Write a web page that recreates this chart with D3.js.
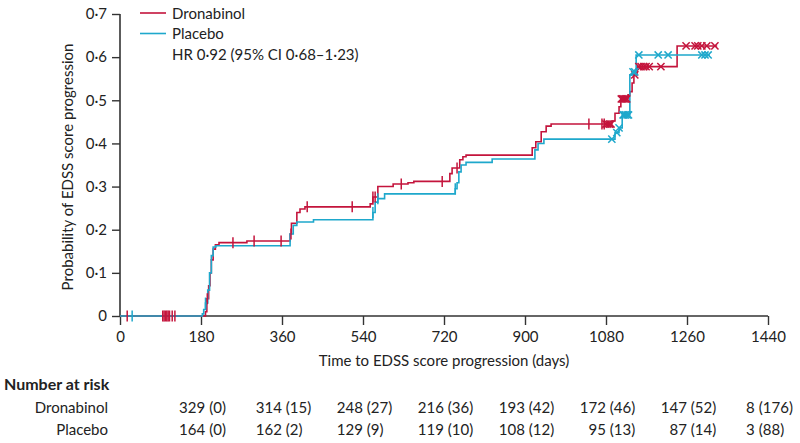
<!DOCTYPE html>
<html>
<head>
<meta charset="utf-8">
<script src="https://cdn.jsdelivr.net/npm/d3@7"></script>
<style>
  html, body { margin: 0; padding: 0; background: #fff; }
  svg { display: block; font-family: Lato, "Open Sans", sans-serif; }
</style>
</head>
<body>
<svg id="chart" width="800" height="443"></svg>
<script>
// ---------------- DATA ----------------
const seriesNames = ["Dronabinol", "Placebo"];
const hrLabel = "HR 0·92 (95% CI 0·68–1·23)";
const xTickValues = [0, 180, 360, 540, 720, 900, 1080, 1260, 1440];
const yTickValues = [0, 0.1, 0.2, 0.3, 0.4, 0.5, 0.6, 0.7];

// Kaplan–Meier steps: [time (days), cumulative probability]
const dronabinolSteps = [
  [0, 0], [190, 0.01], [193, 0.04], [197, 0.07], [200, 0.10], [203, 0.13], [207, 0.155],
  [212, 0.165], [220, 0.17], [282, 0.174], [378, 0.19], [381, 0.215], [393, 0.24],
  [400, 0.248], [411, 0.253], [556, 0.26], [562, 0.276], [573, 0.30], [607, 0.306],
  [640, 0.309], [653, 0.312], [733, 0.33], [738, 0.343], [755, 0.362], [762, 0.369],
  [769, 0.373], [916, 0.39], [924, 0.404], [936, 0.427], [947, 0.44], [958, 0.445],
  [1093, 0.452], [1100, 0.47], [1109, 0.485], [1113, 0.503], [1129, 0.513], [1133, 0.52],
  [1138, 0.54], [1142, 0.559], [1149, 0.578], [1238, 0.626], [1327, 0.626]
];
const placeboSteps = [
  [0, 0], [183, 0.005], [186, 0.015], [190, 0.03], [195, 0.06], [199, 0.10], [203, 0.14],
  [207, 0.16], [213, 0.163], [378, 0.19], [385, 0.21], [393, 0.218], [430, 0.223],
  [562, 0.24], [567, 0.264], [573, 0.272], [588, 0.283], [745, 0.295], [749, 0.309],
  [753, 0.334], [758, 0.35], [769, 0.356], [827, 0.364], [922, 0.385], [929, 0.40],
  [942, 0.41], [1100, 0.425], [1109, 0.436], [1116, 0.466], [1133, 0.559], [1140, 0.566],
  [1147, 0.605], [1311, 0.605]
];

// Censoring times (days)
const dronabinolCensored = [
  16, 95, 98, 101, 104, 107, 110, 116, 122, 194, 251, 298, 358, 380, 416, 516, 562, 567,
  625, 716, 749, 1042, 1071, 1076, 1080, 1084, 1088, 1091, 1114, 1117, 1120, 1123, 1126,
  1144, 1153, 1158, 1164, 1169, 1176, 1202, 1258, 1278, 1284, 1293, 1304, 1322
];
const placeboCensored = [
  27, 190, 562, 573, 745, 1093, 1104, 1109, 1118, 1120, 1123, 1127, 1130, 1140,
  1144, 1153, 1196, 1218, 1293, 1300, 1307
];

// Number at risk table
const riskTimes = [180, 360, 540, 720, 900, 1080, 1260, 1440];
const dronabinolAtRisk = [329, 314, 248, 216, 193, 172, 147, 8];
const dronabinolEvents = [0, 15, 27, 36, 42, 46, 52, 176];
const placeboAtRisk = [164, 162, 129, 119, 108, 95, 87, 3];
const placeboEvents = [0, 2, 9, 10, 12, 13, 14, 88];

// ---------------- LAYOUT ----------------
const colors = { Dronabinol: "#c4143c", Placebo: "#1ea8cc" };
const axisColor = "#333";
const textColor = "#222";
const margin = { left: 120, right: 32, top: 14, bottom: 127 };
const W = 800, H = 443;
const svg = d3.select("#chart");

const x = d3.scaleLinear().domain([0, 1440]).range([margin.left, W - margin.right]);
const y = d3.scaleLinear().domain([0, 0.7]).range([H - margin.bottom, margin.top]);

const fmtY = d => d === 0 ? "0" : d3.format(".1f")(d).replace(".", "·");

// Y axis
const yAxis = svg.append("g")
  .attr("transform", `translate(${x(0)},0)`)
  .call(d3.axisLeft(y).tickValues(yTickValues).tickFormat(fmtY).tickSize(8).tickPadding(5));
// X axis
const xAxis = svg.append("g")
  .attr("transform", `translate(0,${y(0)})`)
  .call(d3.axisBottom(x).tickValues(xTickValues).tickFormat(d3.format("d")).tickSize(9).tickPadding(6));

[yAxis, xAxis].forEach(g => {
  g.select(".domain").attr("stroke", axisColor).attr("stroke-width", 1.6);
  g.selectAll(".tick line").attr("stroke", axisColor).attr("stroke-width", 1.4);
  g.selectAll(".tick text").attr("fill", textColor).style("font-size", "15px")
    .style("font-family", "Lato, sans-serif");
});
xAxis.select(".domain").attr("d", `M${x(0)},0H${x(1440)}`);
yAxis.select(".domain").attr("d", `M0,${y(0.7)}V${y(0)}`);

// Axis titles
svg.append("text")
  .attr("x", (x(0) + x(1440)) / 2).attr("y", 366)
  .attr("text-anchor", "middle").attr("fill", textColor).style("font-size", "15px")
  .text("Time to EDSS score progression (days)");
svg.append("text")
  .attr("transform", `translate(73,${(y(0) + y(0.7)) / 2 + 2}) rotate(-90)`)
  .attr("text-anchor", "middle").attr("fill", textColor).style("font-size", "15px")
  .text("Probability of EDSS score progression");

// Curves
const line = d3.line().x(d => x(d[0])).y(d => y(d[1])).curve(d3.curveStepAfter);
const stepValue = (steps, t) => {
  let v = 0;
  for (const s of steps) { if (s[0] <= t) v = s[1]; else break; }
  return v;
};

const curves = [
  { name: "Dronabinol", steps: dronabinolSteps, cens: dronabinolCensored },
  { name: "Placebo", steps: placeboSteps, cens: placeboCensored }
];

curves.forEach(c => {
  svg.append("path").datum(c.steps).attr("d", line)
    .attr("fill", "none").attr("stroke", colors[c.name]).attr("stroke-width", 1.6);
});

curves.forEach(c => {
  const g = svg.append("g").attr("stroke", colors[c.name]).attr("stroke-width", 1.5).attr("fill", "none");
  c.cens.forEach(t => {
    const cx = x(t), cy = y(stepValue(c.steps, t));
    if (t < 1077) {
      g.append("line").attr("x1", cx).attr("x2", cx).attr("y1", cy - 5.5).attr("y2", cy + 5.5);
    } else {
      const r = 3.6;
      g.append("path").attr("d", `M${cx - r},${cy - r}L${cx + r},${cy + r}M${cx - r},${cy + r}L${cx + r},${cy - r}`);
    }
  });
});

// Legend
const legend = svg.append("g");
seriesNames.forEach((n, i) => {
  const ly = 13 + i * 20.5;
  legend.append("line").attr("x1", 140).attr("x2", 166).attr("y1", ly).attr("y2", ly)
    .attr("stroke", colors[n]).attr("stroke-width", 1.6);
  legend.append("text").attr("x", 172).attr("y", ly + 5.5).attr("fill", textColor)
    .style("font-size", "15px").text(n);
});
legend.append("text").attr("x", 172).attr("y", 13 + 2 * 20.5 + 5.5).attr("fill", textColor)
  .style("font-size", "15px").text(hrLabel);

// Number at risk
svg.append("text").attr("x", 4).attr("y", 390).attr("fill", textColor)
  .style("font-size", "16px").style("font-weight", "bold").text("Number at risk");

const rows = [
  { name: "Dronabinol", n: dronabinolAtRisk, e: dronabinolEvents, yy: 413 },
  { name: "Placebo", n: placeboAtRisk, e: placeboEvents, yy: 435 }
];
rows.forEach(r => {
  svg.append("text").attr("x", 108).attr("y", r.yy).attr("text-anchor", "end")
    .attr("fill", textColor).style("font-size", "15px").text(r.name);
});
const gap = 4;
riskTimes.forEach((t, i) => {
  const parts = rows.map(r => {
    const num = svg.append("text").attr("y", r.yy).attr("text-anchor", "end")
      .attr("fill", textColor).style("font-size", "15px").text(r.n[i]);
    const par = svg.append("text").attr("y", r.yy).attr("fill", textColor)
      .style("font-size", "15px").text(`(${r.e[i]})`);
    return { num, par };
  });
  // centre the first row's string on the tick; align other rows on the parenthesis
  const nw = parts[0].num.node().getComputedTextLength();
  const pw = parts[0].par.node().getComputedTextLength();
  const left = x(t) + 1.5 - (nw + gap + pw) / 2;
  const anchor = left + nw;
  parts.forEach(p => {
    p.num.attr("x", anchor);
    p.par.attr("x", anchor + gap);
  });
});
</script>
</body>
</html>
